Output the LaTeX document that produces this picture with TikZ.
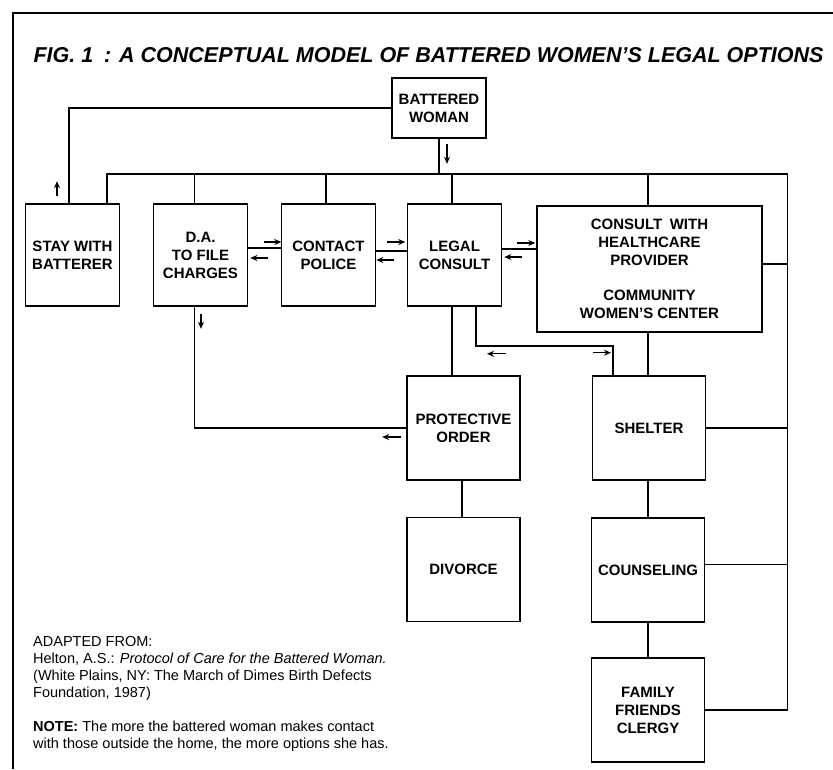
\documentclass[tikz,border=0pt]{standalone}
\usepackage{fontspec}
\setmainfont{Liberation Sans}
\usetikzlibrary{positioning,arrows.meta}

\tikzstyle{link} = [line width=1.6pt]
\tikzstyle{pointer} = [line width=1.3pt,-{Stealth[length=7pt,width=6pt]}]
\tikzstyle{option} = [
        rectangle,
        minimum width=94pt,
        minimum height=102pt,
        inner sep=0pt,
        align=center,
        line width=1.6pt,
        draw=black,
        font=\bfseries\fontsize{15}{18}\selectfont
    ]
\tikzstyle{court} = [
        option,
        minimum width=113pt,
        minimum height=104pt
    ]

\begin{document}
\begin{tikzpicture}[x=1pt, y=1pt, node distance=128pt]
    \useasboundingbox (0,0) rectangle (833,-769);
    \draw[line width=1.8pt] (13,-769) -- (13,-13) -- (833,-13);
    \node[font=\bfseries\itshape\fontsize{21.5}{24}\selectfont] (title) at (428.5,-55) {FIG.\ 1\enspace: A CONCEPTUAL MODEL OF BATTERED WOMEN'S LEGAL OPTIONS};

    \node[option] (stay) at (72.5,-255) {STAY WITH\\BATTERER};
    \node[option, right of=stay] (da) {D.A.\\TO FILE\\CHARGES};
    \node[option, right of=da] (cp) {CONTACT\\POLICE};
    \node[option, right of=cp, xshift=-2pt] (lc) {LEGAL\\CONSULT};
    \node[option, minimum width=225pt, minimum height=126pt, right of=lc, xshift=67pt, yshift=-14pt] (ch) {CONSULT\enspace WITH\\HEALTHCARE\\PROVIDER\\[17pt]COMMUNITY\\WOMEN'S CENTER};
    \node[option, minimum height=60pt, above of=lc, xshift=-15.5pt, yshift=19pt] (bw) {BATTERED\\WOMAN};
    \node[court, below of=lc, xshift=9pt, yshift=-45pt] (po) {PROTECTIVE\\ORDER};
    \node[court, right of=po, xshift=57.5pt] (sh) {SHELTER};
    \node[court, below of=po, yshift=-13.5pt] (dv) {DIVORCE};
    \node[court, below of=sh, xshift=-1pt, yshift=-14pt] (cn) {COUNSELING};
    \node[court, below of=cn, yshift=-12pt] (ff) {FAMILY\\FRIENDS\\CLERGY};

    \coordinate (bus) at ([yshift=-35pt]bw.south);
    \coordinate (rail) at ([xshift=82pt]ff.east);
    \coordinate (jog) at ([xshift=-36pt,yshift=29pt]sh.north);

    \draw[link] (bw.west) -| ([xshift=-3.5pt]stay.north);
    \draw[link] (bw.south) -- (bus);
    \draw[link] ([xshift=34.5pt]stay.north) |- (bus) -| (rail) -- (ff.east);
    \draw[link] ([xshift=-6pt]da.north) |- (bus);
    \draw[link] ([xshift=-2.5pt]cp.north) |- (bus);
    \draw[link] ([xshift=-2.5pt]lc.north) |- (bus);
    \draw[link] ([xshift=-1.5pt]ch.north) |- (bus);
    \draw[link] ([yshift=5pt]ch.east) -| (rail);
    \draw[link] (sh.east) -| (rail);
    \draw[link] ([yshift=5.5pt]cn.east) -| (rail);

    \draw[link] ([yshift=7pt]da.east) -- ([yshift=7pt]cp.west);
    \draw[link] ([yshift=4pt]cp.east) -- ([yshift=4pt]lc.west);
    \draw[link] ([yshift=6pt]lc.east) -- ++(35,0);
    \draw[link] ([xshift=-6pt]da.south) |- (po.west);
    \draw[link] ([xshift=-2.5pt]lc.south) -- ++(0,-70);
    \draw[link] ([xshift=21.5pt]lc.south) |- (jog) -- ++(0,-29);
    \draw[link] ([xshift=-1.5pt]ch.south) -- ++(0,-44);
    \draw[link] ([xshift=-1.5pt]po.south) -- ([xshift=-1.5pt]dv.north);
    \draw[link] ([xshift=-1pt]sh.south) -- (cn.north);
    \draw[link] (cn.south) -- (ff.north);

    \draw[pointer] ([xshift=8pt,yshift=-5pt]bw.south) -- ++(0,-20);
    \draw[pointer] ([xshift=-15.5pt,yshift=7pt]stay.north) -- ++(0,15);
    \draw[pointer] ([xshift=16pt,yshift=13pt]da.east) -- ++(17,0);
    \draw[pointer] ([xshift=20pt,yshift=-3pt]da.east) -- ++(-18,0);
    \draw[pointer] ([xshift=11pt,yshift=13pt]cp.east) -- ++(18,0);
    \draw[pointer] ([xshift=18pt,yshift=-5pt]cp.east) -- ++(-18,0);
    \draw[pointer] ([xshift=15pt,yshift=12pt]lc.east) -- ++(18,0);
    \draw[pointer] ([xshift=20pt,yshift=-2pt]lc.east) -- ++(-18,0);
    \draw[pointer] ([xshift=0.5pt,yshift=-7pt]da.south) -- ++(0,-15);
    \draw[pointer] ([xshift=-5pt,yshift=-9pt]po.west) -- ++(-19,0);
    \draw[pointer] ([xshift=51.5pt,yshift=-47pt]lc.south) -- ++(-19,0);
    \draw[pointer] ([xshift=-20pt,yshift=-6.5pt]jog) -- ++(18,0);

    \node[anchor=north west, align=left, inner sep=0pt, font=\fontsize{14.5}{17}\selectfont] (source) at (33,-636) {ADAPTED FROM:\\Helton, A.S.: \textit{Protocol of Care for the Battered Woman.}\\(White Plains, NY: The March of Dimes Birth Defects\\Foundation, 1987)\\[17pt]\textbf{NOTE:} The more the battered woman makes contact\\with those outside the home, the more options she has.};
\end{tikzpicture}
\end{document}
